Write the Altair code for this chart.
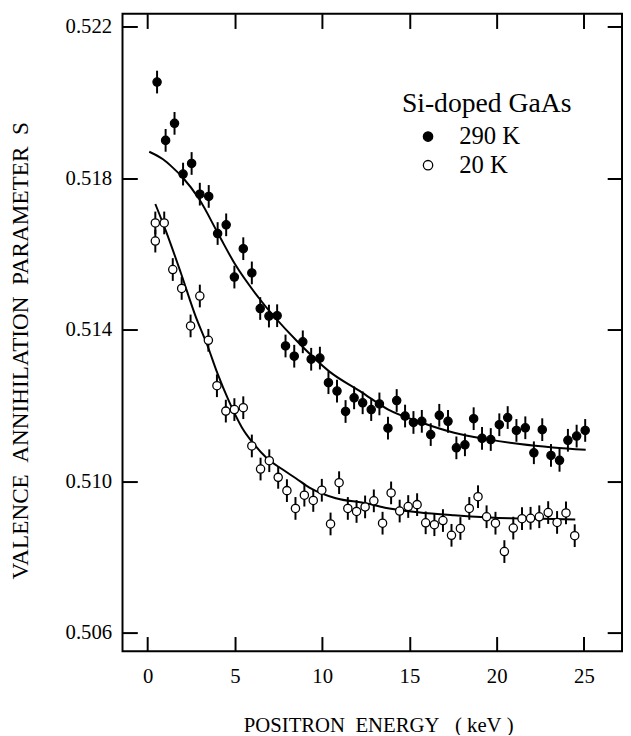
import altair as alt
import pandas as pd

# ---- data ----
E290 = [0.54, 1.03, 1.54, 2.03, 2.52, 2.99, 3.50, 4.01, 4.50, 4.97,
        5.48, 5.97, 6.45, 6.95, 7.42, 7.90, 8.40, 8.89, 9.37, 9.87,
        10.36, 10.85, 11.34, 11.83, 12.32, 12.81, 13.28, 13.77, 14.27, 14.75,
        15.23, 15.71, 16.22, 16.71, 17.21, 17.69, 18.18, 18.68, 19.16, 19.66,
        20.15, 20.63, 21.13, 21.64, 22.13, 22.61, 23.11, 23.60, 24.08, 24.58,
        25.07]
S290 = [0.52054, 0.51900, 0.51945, 0.51811, 0.51839, 0.51758, 0.51752, 0.51654, 0.51677, 0.51539,
        0.51614, 0.51550, 0.51456, 0.51436, 0.51437, 0.51357, 0.51330, 0.51368, 0.51322, 0.51325,
        0.51260, 0.51238, 0.51184, 0.51220, 0.51207, 0.51189, 0.51204, 0.51140, 0.51213, 0.51172,
        0.51155, 0.51158, 0.51123, 0.51174, 0.51158, 0.51088, 0.51096, 0.51165, 0.51113, 0.51110,
        0.51149, 0.51168, 0.51134, 0.51141, 0.51075, 0.51136, 0.51068, 0.51055, 0.51108, 0.51119,
        0.51134]
E20 = [0.44, 0.44, 0.95, 1.44, 1.95, 2.46, 2.99, 3.48, 3.97, 4.48,
       4.97, 5.48, 5.97, 6.47, 6.97, 7.48, 7.98, 8.47, 8.98, 9.49,
       9.98, 10.48, 10.97, 11.47, 11.97, 12.46, 12.96, 13.46, 13.95, 14.44,
       14.93, 15.44, 15.93, 16.43, 16.92, 17.41, 17.92, 18.43, 18.93, 19.42,
       19.93, 20.44, 20.95, 21.45, 21.94, 22.44, 22.95, 23.46, 23.97, 24.47]
S20 = [0.51682, 0.51634, 0.51682, 0.51559, 0.51509, 0.51410, 0.51489, 0.51372, 0.51252, 0.51185,
       0.51189, 0.51194, 0.51093, 0.51032, 0.51054, 0.51010, 0.50975, 0.50928, 0.50963, 0.50949,
       0.50976, 0.50887, 0.50996, 0.50928, 0.50920, 0.50932, 0.50948, 0.50889, 0.50969, 0.50921,
       0.50933, 0.50938, 0.50890, 0.50885, 0.50896, 0.50857, 0.50875, 0.50928, 0.50959, 0.50906,
       0.50889, 0.50814, 0.50876, 0.50901, 0.50902, 0.50906, 0.50917, 0.50891, 0.50916, 0.50856]
ERR = 0.0003

FIT290_E = [0.09, 0.88, 1.44, 2.01, 2.95, 4.08, 5.02, 6.35, 8.51, 10.40,
            12.29, 13.79, 15.68, 17.56, 19.45, 21.33, 23.22, 25.10]
FIT290_S = [0.51870, 0.51850, 0.51828, 0.51802, 0.51745, 0.51650, 0.51572, 0.51485, 0.51372, 0.51290,
            0.51234, 0.51189, 0.51155, 0.51128, 0.51111, 0.51098, 0.51089, 0.51083]
FIT20_E = [0.44, 1.06, 1.91, 2.76, 3.42, 3.99, 4.67, 5.40, 6.14, 6.82,
           7.76, 8.51, 9.27, 10.78, 12.47, 13.60, 15.49, 17.56, 20.77, 22.65, 24.50]
FIT20_S = [0.51732, 0.51659, 0.51549, 0.51434, 0.51359, 0.51286, 0.51210, 0.51142, 0.51095, 0.51061,
           0.51030, 0.51007, 0.50983, 0.50955, 0.50942, 0.50930, 0.50918, 0.50910, 0.50902, 0.50901, 0.50899]

SERIES = ["290 K", "20 K"]
X_TICKS = [0, 5, 10, 15, 20, 25]
Y_TICKS = [0.506, 0.510, 0.514, 0.518, 0.522]
X_DOMAIN = [-1.44, 27.18]
Y_DOMAIN = [0.505505, 0.522347]

pts = pd.concat([
    pd.DataFrame({"E": E290, "S": S290, "series": SERIES[0]}),
    pd.DataFrame({"E": E20, "S": S20, "series": SERIES[1]}),
], ignore_index=True)
pts["lo"] = pts["S"] - ERR
pts["hi"] = pts["S"] + ERR

fits = pd.concat([
    pd.DataFrame({"E": FIT290_E, "S": FIT290_S, "series": SERIES[0]}),
    pd.DataFrame({"E": FIT20_E, "S": FIT20_S, "series": SERIES[1]}),
], ignore_index=True)

FONT = "Liberation Serif"
xs = alt.Scale(domain=X_DOMAIN, nice=False, zero=False)
ys = alt.Scale(domain=Y_DOMAIN, nice=False, zero=False)

common = dict(domain=False, grid=False, tickColor="black", tickWidth=2,
              tickSize=15, offset=-15, labelFont=FONT, labelColor="black")

lines = alt.Chart(fits).mark_line(color="black", strokeWidth=2, interpolate="monotone").encode(
    x=alt.X("E:Q", scale=xs, axis=None),
    y=alt.Y("S:Q", scale=ys, axis=None),
    detail="series:N",
)

bars = alt.Chart(pts).mark_rule(color="black", strokeWidth=2).encode(
    x=alt.X("E:Q", scale=xs, axis=alt.Axis(
        values=X_TICKS, orient="bottom", labelFontSize=21, labelPadding=15,
        title="POSITRON\u00a0\u00a0ENERGY\u00a0\u00a0\u00a0(\u00a0keV\u00a0)",
        titleFont=FONT, titleFontSize=21, titleFontWeight="normal",
        titleColor="black", titlePadding=28, titleX=259, **common)),
    y=alt.Y("lo:Q", scale=ys, axis=alt.Axis(
        values=Y_TICKS, orient="left", format=".3f", labelFontSize=21, labelPadding=11,
        title="VALENCE\u00a0\u00a0ANNIHILATION\u00a0\u00a0PARAMETER\u00a0\u00a0S",
        titleFont=FONT, titleFontSize=23.5, titleFontWeight="normal",
        titleColor="black", titlePadding=33, titleY=341, **common)),
    y2="hi:Q",
)

points = alt.Chart(pts).mark_point(shape="circle", filled=True, size=70, stroke="black",
                                   strokeWidth=1.3, opacity=1).encode(
    x=alt.X("E:Q", scale=xs, axis=alt.Axis(values=X_TICKS, orient="top", labels=False,
                                          title=None, **common)),
    y=alt.Y("S:Q", scale=ys, axis=alt.Axis(values=Y_TICKS, orient="right", labels=False,
                                          title=None, **common)),
    fill=alt.Fill("series:N", scale=alt.Scale(domain=SERIES, range=["black", "white"]),
                  legend=alt.Legend(
                      orient="none", legendX=283, legendY=78, padding=0,
                      title="Si-doped GaAs", titleFont=FONT, titleFontSize=28,
                      titleFontWeight="normal", titleColor="black", titlePadding=6,
                      labelFont=FONT, labelFontSize=25, labelColor="black",
                      symbolType="circle", symbolSize=90, symbolStrokeColor="black",
                      symbolStrokeWidth=1.3, symbolOffset=14, labelOffset=19,
                      rowPadding=3)),
)

chart = alt.layer(lines, bars, points).resolve_axis(
    x="independent", y="independent"
).properties(
    width=506, height=646,
    autosize=alt.AutoSizeParams(type="none"),
    padding={"left": 116, "top": 1, "right": 1, "bottom": 80},
    background="white",
).configure(
    font=FONT
).configure_axis(
    labelFont=FONT, titleFont=FONT
).configure_legend(
    labelFont=FONT, titleFont=FONT
).configure_view(stroke="black", strokeWidth=2)

chart.save("out.html", embed_options={"renderer": "svg", "actions": False})
